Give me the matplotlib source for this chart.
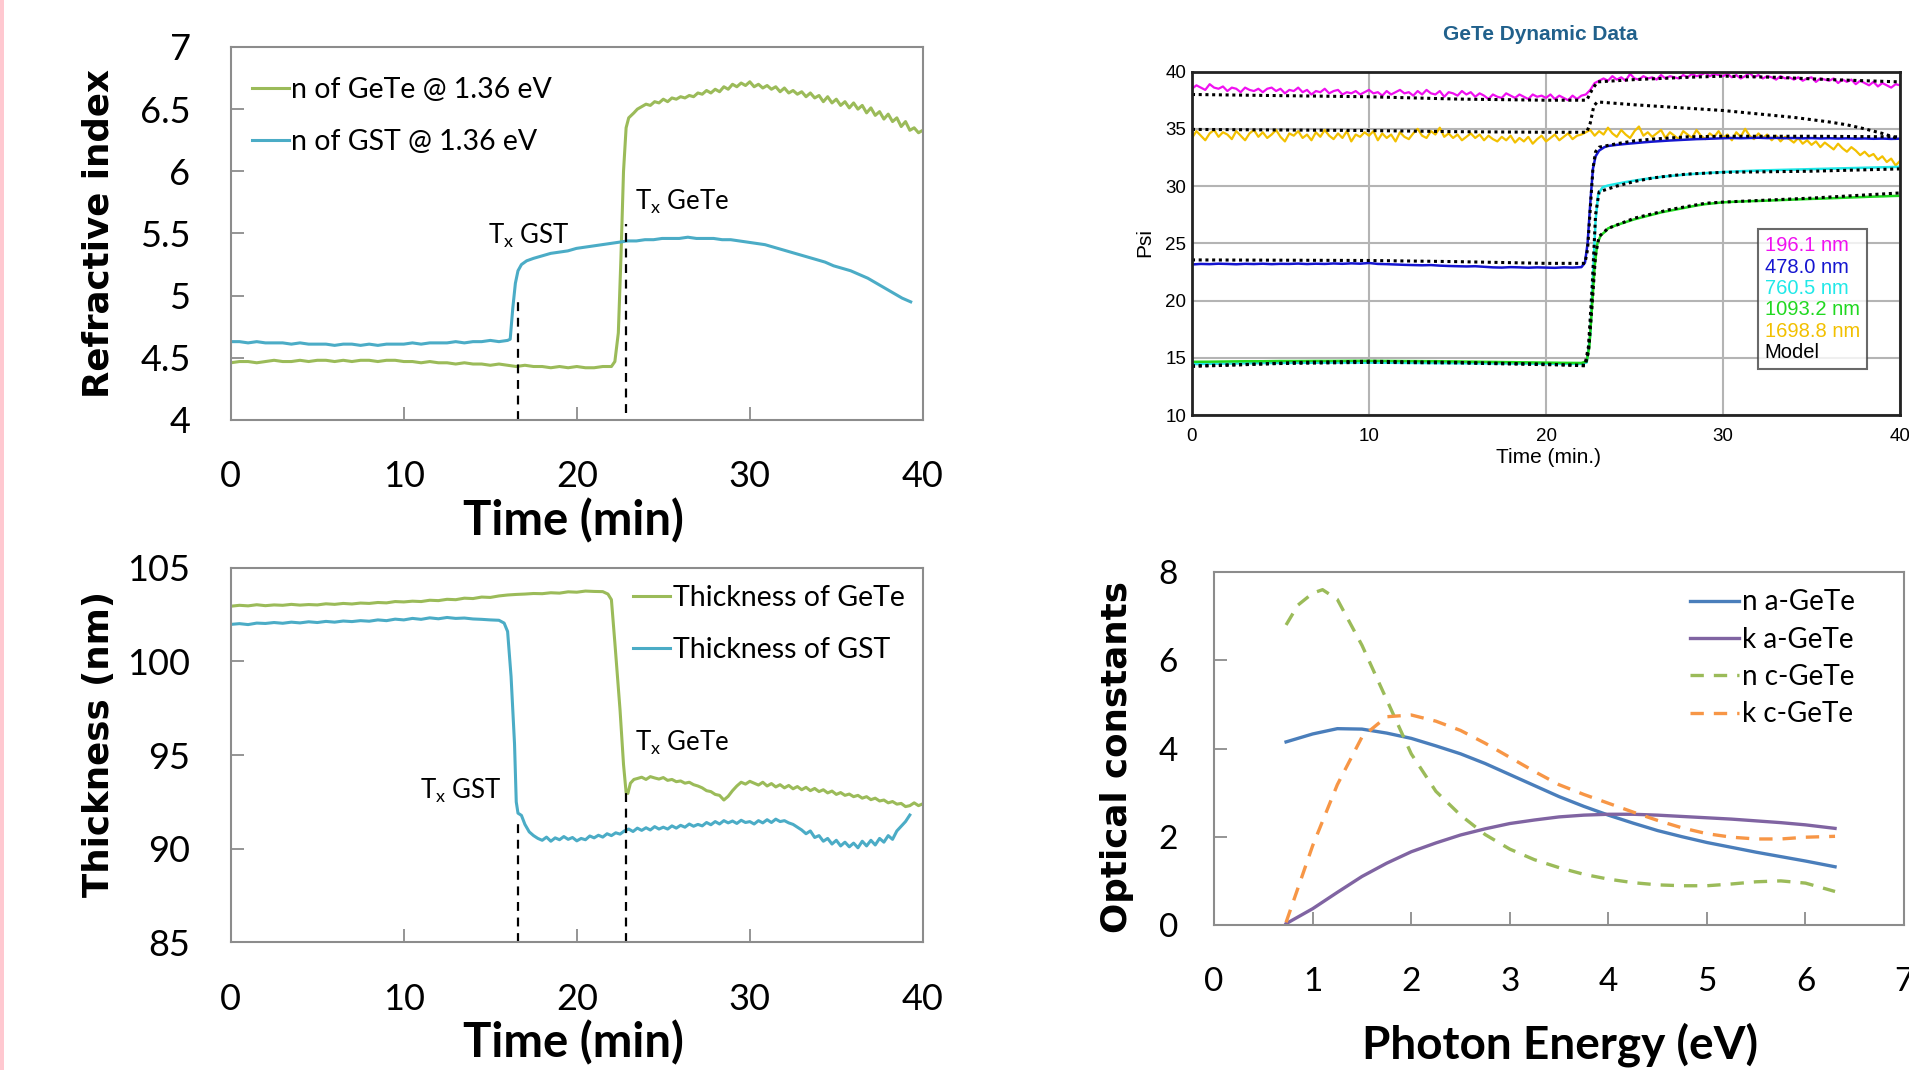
import numpy as np
import matplotlib
matplotlib.use("Agg")
import matplotlib.pyplot as plt
from matplotlib.lines import Line2D
from matplotlib.patches import Rectangle
from matplotlib.ticker import FuncFormatter

plt.rcParams['font.family'] = ['Lato', 'DejaVu Sans']
plt.rcParams['mathtext.fontset'] = 'custom'
plt.rcParams['mathtext.rm'] = 'Lato'

# ---------------------------------------------------------------- data
time_ticks = [0, 10, 20, 30, 40]

# refractive index at 1.36 eV
ri_ticks = [4, 4.5, 5, 5.5, 6, 6.5, 7]
n_gete_pre = [4.46, 4.47, 4.47, 4.46, 4.47, 4.48, 4.47, 4.47, 4.48, 4.47, 4.48, 4.48,
              4.47, 4.48, 4.47, 4.48, 4.48, 4.47, 4.48, 4.48, 4.47, 4.47, 4.46, 4.47,
              4.46, 4.46, 4.45, 4.46, 4.45, 4.45, 4.44, 4.45, 4.44, 4.43, 4.44, 4.43,
              4.43, 4.42, 4.43, 4.42, 4.43, 4.42, 4.42, 4.43, 4.43]          # 0 .. 22 min
n_gete_jump_t = [22.2, 22.4, 22.55, 22.7, 22.85, 23.0, 23.3]
n_gete_jump = [4.47, 4.70, 5.30, 6.00, 6.35, 6.43, 6.47]
n_gete_post = [6.50, 6.52, 6.54, 6.53, 6.56, 6.55, 6.58, 6.56, 6.59, 6.58, 6.60, 6.59, 6.61, 6.60, 6.63,
               6.62, 6.65, 6.63, 6.66, 6.64, 6.68, 6.66, 6.70, 6.68, 6.71, 6.69, 6.72,
               6.68, 6.70, 6.67, 6.69, 6.66, 6.68, 6.64, 6.67, 6.63, 6.65, 6.62, 6.64,
               6.60, 6.63, 6.59, 6.61, 6.56, 6.60, 6.55, 6.58, 6.53, 6.56, 6.51, 6.55,
               6.50, 6.53, 6.47, 6.51, 6.45, 6.48, 6.42, 6.46, 6.40, 6.43, 6.36, 6.40,
               6.33, 6.35, 6.31, 6.33]                                           # 23.5 .. 40 min

n_gst_pre = [4.63, 4.63, 4.62, 4.63, 4.62, 4.62, 4.62, 4.61, 4.62, 4.61, 4.61, 4.61,
             4.60, 4.61, 4.61, 4.60, 4.61, 4.60, 4.61, 4.61, 4.61, 4.62, 4.61, 4.62,
             4.62, 4.62, 4.63, 4.62, 4.63, 4.63, 4.64, 4.63, 4.64]              # 0 .. 16 min
n_gst_jump_t = [16.15, 16.3, 16.45, 16.6, 16.8, 17.1]
n_gst_jump = [4.65, 4.90, 5.10, 5.20, 5.25, 5.28]
n_gst_post = [5.30, 5.32, 5.34, 5.35, 5.36, 5.38, 5.39, 5.40, 5.41, 5.42, 5.43, 5.44,
              5.44, 5.45, 5.45, 5.46, 5.46, 5.46, 5.47, 5.46, 5.46, 5.46, 5.45, 5.45,
              5.44, 5.43, 5.42, 5.41, 5.39, 5.37, 5.35, 5.33, 5.31, 5.29, 5.27, 5.24,
              5.22, 5.20, 5.17, 5.14, 5.10, 5.06, 5.02, 4.98, 4.95]             # 17.5 .. 39.3 min

# crystallisation times and marker-line tops
tx_times = [16.6, 22.85]
tx_ri_bottom = [4.0, 4.06]
tx_ri_top = [4.95, 5.58]
tx_th_top = [91.4, 93.0]

# film thickness
th_ticks = [85, 90, 95, 100, 105]
th_gete_pre = [102.95, 103.00, 102.97, 103.03, 102.98, 103.02, 103.00, 103.05, 103.01, 103.04,
               103.02, 103.08, 103.05, 103.10, 103.07, 103.12, 103.10, 103.15, 103.13, 103.20,
               103.18, 103.22, 103.20, 103.27, 103.25, 103.32, 103.30, 103.38, 103.36, 103.44,
               103.42, 103.50, 103.55, 103.58, 103.60, 103.63, 103.62, 103.67, 103.65, 103.72,
               103.70, 103.76, 103.74, 103.73]                                   # 0 .. 21.5 min
th_gete_jump_t = [21.8, 22.0, 22.2, 22.5, 22.7, 22.85, 22.95, 23.1, 23.3]
th_gete_jump = [103.6, 103.3, 101.0, 97.4, 94.5, 93.0, 92.95, 93.5, 93.7]
th_gete_post = [93.75, 93.82, 93.70, 93.85, 93.78, 93.72, 93.80, 93.65, 93.70, 93.58, 93.62, 93.50, 93.55, 93.42, 93.35,
                93.25, 93.10, 93.05, 92.90, 92.85, 92.60, 92.80, 93.10, 93.35, 93.55, 93.45, 93.60,
                93.50, 93.40, 93.55, 93.35, 93.48, 93.30, 93.42, 93.25, 93.38, 93.20, 93.32, 93.15,
                93.28, 93.10, 93.22, 93.05, 93.15, 92.98, 93.08, 92.90, 93.00, 92.85, 92.92, 92.78,
                92.85, 92.70, 92.78, 92.62, 92.70, 92.55, 92.60, 92.45, 92.52, 92.38, 92.42, 92.25,
                92.30, 92.45, 92.30, 92.40]                                      # 23.5 .. 40 min

th_gst_pre = [101.98, 102.02, 101.97, 102.05, 102.03, 102.08, 102.04, 102.10, 102.06, 102.12,
              102.08, 102.14, 102.10, 102.16, 102.13, 102.18, 102.15, 102.22, 102.18, 102.26,
              102.22, 102.30, 102.25, 102.33, 102.28, 102.35, 102.30, 102.32, 102.27, 102.25,
              102.22, 102.20]                                                    # 0 .. 15.5 min
th_gst_jump_t = [15.8, 16.0, 16.2, 16.4, 16.5, 16.6, 16.8, 17.0, 17.25]
th_gst_jump = [102.05, 101.6, 99.2, 95.6, 92.5, 91.9, 91.78, 91.3, 90.9]
th_gst_post = [90.70, 90.55,
               90.45, 90.62, 90.40, 90.58, 90.48, 90.65, 90.50, 90.60,
               90.42, 90.55, 90.48, 90.68, 90.58, 90.72, 90.62, 90.80,
               90.70, 90.85, 90.78, 90.95, 91.05, 90.92, 91.10, 90.98,
               91.12, 91.00, 91.18, 91.05, 91.15, 91.05, 91.22, 91.10,
               91.25, 91.15, 91.32, 91.20, 91.30, 91.22, 91.40, 91.28,
               91.45, 91.32, 91.50, 91.38, 91.48, 91.35, 91.52, 91.40,
               91.45, 91.32, 91.50, 91.38, 91.55, 91.40, 91.58, 91.45,
               91.50, 91.38, 91.30, 91.15, 91.00, 90.80, 90.95, 90.60,
               90.70, 90.40, 90.55, 90.25, 90.45, 90.15, 90.35, 90.10,
               90.30, 90.05, 90.40, 90.15, 90.45, 90.20, 90.55, 90.35,
               90.70, 90.50, 90.95, 91.20, 91.45, 91.80]                         # 17.5 .. 39.25 min

# ellipsometric Psi (deg) at five wavelengths, measured and model
psi_ticks = [10, 15, 20, 25, 30, 35, 40]
psi_labels = ['196.1 nm', '478.0 nm', '760.5 nm', '1093.2 nm', '1698.8 nm', 'Model']

psi_196_pre = [38.5, 38.8, 38.6, 38.4, 38.9, 38.6, 38.5, 38.7, 38.3, 38.6, 38.5, 38.2,
               38.6, 38.4, 38.3, 38.5, 38.2, 38.5, 38.6, 38.3, 38.5, 38.1, 38.4, 38.3,
               38.6, 38.2, 38.4, 38.0, 38.3, 38.2, 38.5, 38.1, 38.3, 38.4, 38.0, 38.2,
               38.1, 38.3, 38.0, 38.2, 38.4, 38.1, 38.2, 37.9, 38.3, 38.0, 38.2, 38.4,
               38.1, 38.2, 37.9, 38.3, 38.0, 38.4, 38.1, 38.0, 38.3, 37.8, 38.2, 38.1,
               37.9, 38.3, 38.0, 38.2, 37.8, 38.1, 37.9, 37.6, 38.0, 37.8, 37.7, 38.1,
               37.9, 37.7, 38.0, 37.8, 37.6, 38.0, 37.8, 37.9, 37.7, 38.0, 37.6, 37.9,
               37.7, 37.5, 37.9, 37.6, 37.9]                                     # 0 .. 22 min
psi_196_jump_t = [22.25, 22.5, 22.75, 23.0]
psi_196_jump = [38.0, 38.4, 39.0, 39.2]
psi_196_post = [39.4, 39.2, 39.6,
                39.3, 39.5, 39.2, 39.8, 39.4, 39.3, 39.6, 39.4, 39.5, 39.3, 39.7, 39.4,
                39.6, 39.5, 39.4, 39.7, 39.5, 39.8, 39.6, 39.7, 39.9, 39.6, 39.8, 39.7,
                39.6, 39.8, 39.5, 39.7, 39.4, 39.6, 39.9, 39.5, 39.7, 39.4, 39.6, 39.5,
                39.3, 39.6, 39.4, 39.5, 39.3, 39.5, 39.2, 39.4, 39.5, 39.1, 39.4, 39.3,
                39.2, 39.4, 39.0, 39.3, 39.1, 39.3, 38.9, 39.2, 39.0, 38.8, 39.1, 38.7,
                39.0, 38.8, 38.6, 38.9, 38.8]                                    # 23.25 .. 40 min

psi_1698_pre = [34.2, 34.8, 34.4, 34.0, 34.6, 34.9, 34.3, 34.7, 34.5, 34.1, 34.8, 34.4,
                34.0, 34.6, 34.9, 34.3, 34.7, 34.2, 34.5, 34.9, 34.3, 33.9, 34.6, 34.4,
                34.8, 34.2, 34.5, 34.0, 34.7, 34.3, 34.9, 34.4, 34.1, 34.6, 34.2, 34.8,
                33.9, 34.5, 34.3, 34.7, 34.4, 34.8, 34.0, 34.6, 34.2, 34.5, 33.9, 34.7,
                34.3, 34.1, 34.6, 35.0, 34.4, 34.2, 34.8, 34.5, 35.1, 34.3, 34.6, 34.2,
                34.5, 34.0, 34.3, 34.6, 34.2, 34.5, 34.0, 34.4, 34.1, 33.9, 34.3, 34.0,
                34.4, 33.8, 34.2, 33.9, 34.3, 33.7, 34.1, 34.4, 33.9, 34.2, 34.5, 34.0,
                34.3, 34.6, 34.1, 34.4, 34.5]                                    # 0 .. 22 min
psi_1698_post = [34.7, 34.9, 34.4,
                 34.8, 34.5, 35.1, 34.6, 34.3, 34.9, 34.5, 34.2, 34.8, 35.2, 34.4, 34.7,
                 34.3, 34.6, 34.9, 34.2, 34.7, 34.4, 34.1, 34.8, 34.5, 34.2, 34.9, 34.4,
                 34.1, 34.6, 34.3, 34.8, 34.2, 34.5, 34.0, 34.7, 34.3, 35.0, 34.4, 34.1,
                 34.6, 34.2, 34.5, 34.0, 34.4, 33.9, 34.3, 34.1, 33.8, 34.2, 33.7, 34.0,
                 33.6, 33.9, 33.4, 33.8, 33.5, 33.2, 33.7, 33.3, 33.0, 33.4, 33.1, 32.7,
                 33.0, 32.6, 32.8, 32.3, 32.6, 32.1, 32.4, 31.8, 32.2]             # 22.25 .. 40 min

psi_478_pre = [23.15, 23.20, 23.18, 23.22, 23.20, 23.17, 23.21, 23.19, 23.22, 23.18, 23.21, 23.20,
               23.23, 23.19, 23.22, 23.20, 23.24, 23.21, 23.25, 23.22, 23.28, 23.20, 23.18, 23.15,
               23.12, 23.10, 23.08, 23.10, 23.05, 23.02, 23.00, 22.98, 23.00, 22.95, 22.90, 22.88,
               22.92, 22.90, 22.87, 22.90, 22.88, 22.86, 22.90, 22.88, 22.92]   # 0 .. 22 min
psi_478_jump_t = [22.2, 22.35, 22.5, 22.65, 22.8, 23.0, 23.3]
psi_478_jump = [23.3, 25.0, 28.5, 31.5, 32.6, 33.1, 33.4]
psi_478_post = [33.50, 33.60, 33.68, 33.75, 33.82, 33.88, 33.93, 33.98, 34.02, 34.06, 34.10, 34.12,
                34.15, 34.18, 34.20, 34.18, 34.20, 34.22, 34.19, 34.21, 34.18, 34.20, 34.17, 34.19,
                34.16, 34.18, 34.15, 34.17, 34.14, 34.16, 34.13, 34.15, 34.12, 34.14]  # 23.5 .. 40 min

psi_760_pre = [14.45, 14.48, 14.50, 14.52, 14.54, 14.55, 14.56, 14.57, 14.58, 14.58, 14.58, 14.57,
               14.56, 14.55, 14.54, 14.53, 14.52, 14.51, 14.50, 14.49, 14.48, 14.47, 14.47]  # 0 .. 22 min
psi_760_jump_t = [22.3, 22.5, 22.65, 22.8, 22.95, 23.2]
psi_760_jump = [14.6, 17.0, 22.0, 27.0, 29.3, 29.9]
psi_760_post = [30.05, 30.20, 30.35, 30.48, 30.60, 30.70, 30.80, 30.88, 30.95, 31.02, 31.08, 31.13,
                31.18, 31.22, 31.26, 31.30, 31.33, 31.36, 31.38, 31.40, 31.42, 31.44, 31.46, 31.48,
                31.50, 31.52, 31.54, 31.56, 31.58, 31.60, 31.62, 31.64, 31.66, 31.68]  # 23.5 .. 40 min

psi_1093_pre = [14.65, 14.66, 14.68, 14.70, 14.70, 14.72, 14.72, 14.73, 14.73, 14.74, 14.74, 14.73,
                14.72, 14.71, 14.70, 14.68, 14.66, 14.64, 14.62, 14.60, 14.58, 14.56, 14.55]  # 0 .. 22 min
psi_1093_jump_t = [22.3, 22.45, 22.6, 22.75, 22.9, 23.1, 23.4]
psi_1093_jump = [14.7, 16.0, 19.5, 23.0, 25.0, 25.7, 26.1]
psi_1093_post = [26.30, 26.60, 26.85, 27.10, 27.30, 27.50, 27.70, 27.85, 28.00, 28.15, 28.30, 28.42,
                 28.50, 28.58, 28.62, 28.65, 28.68, 28.70, 28.73, 28.76, 28.79, 28.82, 28.85, 28.88,
                 28.90, 28.93, 28.96, 28.99, 29.02, 29.05, 29.08, 29.10, 29.13, 29.15]  # 23.5 .. 40 min

model_196_t = [0, 5, 10, 15, 20, 22.3, 22.6, 22.9, 25, 28, 30, 33, 36, 40]
model_196 = [38.0, 37.9, 37.8, 37.6, 37.5, 37.5, 38.4, 39.1, 39.3, 39.5, 39.6, 39.5, 39.3, 39.1]
model_1698_t = [0, 5, 10, 15, 20, 22.3, 22.5, 22.7, 22.9, 25, 28, 30, 32, 34, 35, 36, 37, 38, 39, 40]
model_1698 = [34.95, 34.9, 34.85, 34.75, 34.7, 34.7, 35.5, 37.0, 37.35, 37.1, 36.8, 36.6, 36.3, 36.0,
              35.8, 35.6, 35.35, 35.0, 34.6, 34.1]
model_478_t = [0, 10, 15, 20, 22.2, 22.35, 22.5, 22.65, 22.8, 23.0, 24, 25, 26, 27, 28, 30, 35, 40]
model_478 = [23.55, 23.5, 23.4, 23.25, 23.25, 24.5, 28.0, 31.5, 33.0, 33.4, 33.7, 33.95, 34.1, 34.2,
             34.3, 34.35, 34.35, 34.3]
model_760_t = [0, 5, 10, 15, 20, 22.2, 22.4, 22.6, 22.8, 23.0, 24, 25, 26, 27, 28, 30, 35, 40]
model_760 = [14.3, 14.5, 14.6, 14.55, 14.4, 14.35, 16.0, 21.0, 27.5, 29.5, 30.0, 30.4, 30.7, 30.9,
             31.05, 31.2, 31.3, 31.5]
model_1093_t = [0, 3, 6, 10, 15, 20, 22.2, 22.4, 22.6, 22.8, 23.0, 23.5, 25, 27, 29, 30, 35, 40]
model_1093 = [14.25, 14.4, 14.6, 14.7, 14.6, 14.45, 14.3, 15.5, 19.5, 24.0, 25.6, 26.3, 27.2, 27.95,
              28.5, 28.6, 28.95, 29.4]

# optical constants of amorphous and crystalline GeTe
energy_ticks = [0, 1, 2, 3, 4, 5, 6, 7]
oc_ticks = [0, 2, 4, 6, 8]
energy = [0.73, 1.0, 1.25, 1.5, 1.75, 2.0, 2.25, 2.5, 2.75, 3.0, 3.25, 3.5, 3.75, 4.0,
          4.25, 4.5, 4.75, 5.0, 5.25, 5.5, 5.75, 6.0, 6.3]
n_a_gete = [4.15, 4.33, 4.45, 4.44, 4.35, 4.23, 4.06, 3.88, 3.66, 3.41, 3.16, 2.91, 2.69, 2.49,
            2.31, 2.14, 2.00, 1.87, 1.76, 1.65, 1.55, 1.45, 1.32]
k_a_gete = [0.03, 0.37, 0.74, 1.10, 1.40, 1.66, 1.86, 2.04, 2.18, 2.30, 2.38, 2.45, 2.49, 2.51,
            2.51, 2.49, 2.46, 2.43, 2.40, 2.36, 2.32, 2.27, 2.19]
energy_nc = [0.73, 0.85, 1.0, 1.1, 1.25, 1.5, 1.75, 2.0, 2.25, 2.5, 2.75, 3.0, 3.25, 3.5, 3.75,
             4.0, 4.25, 4.5, 4.75, 5.0, 5.25, 5.5, 5.75, 6.0, 6.3]
n_c_gete = [6.80, 7.25, 7.52, 7.60, 7.38, 6.34, 5.11, 3.88, 3.03, 2.49, 2.05, 1.72, 1.48, 1.30, 1.15,
            1.04, 0.96, 0.91, 0.89, 0.89, 0.93, 0.98, 1.00, 0.95, 0.76]
k_c_gete = [0.06, 1.80, 3.18, 4.26, 4.72, 4.76, 4.62, 4.41, 4.12, 3.80, 3.48, 3.18, 2.96, 2.76,
            2.56, 2.37, 2.20, 2.07, 1.99, 1.95, 1.95, 1.99, 2.01]


def stitch(pre, pre_span, jump_t, jump_v, post, post_span):
    """Join a steady segment, the transition samples and the following segment."""
    t = np.concatenate([np.linspace(pre_span[0], pre_span[1], len(pre)), jump_t,
                        np.linspace(post_span[0], post_span[1], len(post))])
    return t, np.concatenate([pre, jump_v, post])


# ---------------------------------------------------------------- styling
GREEN = '#9bbb59'
CYAN = '#4bacc6'
GREY = '#8c8c8c'
fmt_g = FuncFormatter(lambda v, p: f'{v:g}')


def office_axes(ax, size, xpad, ypad):
    for s in ax.spines.values():
        s.set_color(GREY)
        s.set_linewidth(1.5)
    ax.tick_params(direction='in', length=9.5, width=1.3, color=GREY, labelsize=size)
    ax.tick_params(axis='x', pad=xpad)
    ax.tick_params(axis='y', pad=ypad)
    ax.xaxis.set_major_formatter(fmt_g)
    ax.yaxis.set_major_formatter(fmt_g)


fig = plt.figure(figsize=(19.09, 10.70), dpi=100)
fig.patch.set_facecolor('white')
fig.add_artist(Rectangle((0, 0), 4 / 1909, 1, transform=fig.transFigure,
                         facecolor='#ffc8d0', edgecolor='none'))

tx_label = r'T$_{\mathregular{x}}$ '

# ---- refractive index
ax1 = fig.add_axes([0.1209, 0.6075, 0.3625, 0.3486])
t, v = stitch(n_gete_pre, (0, 22), n_gete_jump_t, n_gete_jump, n_gete_post, (23.5, 40))
ax1.plot(t, v, color=GREEN, lw=2.2, label='n of GeTe @ 1.36 eV')
t, v = stitch(n_gst_pre, (0, 16), n_gst_jump_t, n_gst_jump, n_gst_post, (17.5, 39.3))
ax1.plot(t, v, color=CYAN, lw=2.2, label='n of GST @ 1.36 eV')
for x, y0, y1 in zip(tx_times, tx_ri_bottom, tx_ri_top):
    ax1.plot([x, x], [y0, y1], color='black', lw=1.6, ls=(0, (4, 3)))
ax1.text(14.86, 5.42, tx_label + 'GST', fontsize=18.5, va='baseline')
ax1.text(23.35, 5.69, tx_label + 'GeTe', fontsize=18.5, va='baseline')
ax1.set_xlim(0, 40)
ax1.set_ylim(4, 7)
ax1.set_xticks(time_ticks)
ax1.set_yticks(ri_ticks)
office_axes(ax1, 26, 29, 29)
ax1.legend(loc='upper left', bbox_to_anchor=(0.03, 0.92), frameon=False, fontsize=20.5,
           handlelength=1.3, handletextpad=0.1, labelspacing=0.92, borderpad=0, borderaxespad=0)

# ---- thickness
ax2 = fig.add_axes([0.1209, 0.1193, 0.3625, 0.3500])
t, v = stitch(th_gete_pre, (0, 21.5), th_gete_jump_t, th_gete_jump, th_gete_post, (23.5, 40))
ax2.plot(t, v, color=GREEN, lw=2.2, label='Thickness of GeTe')
t, v = stitch(th_gst_pre, (0, 15.5), th_gst_jump_t, th_gst_jump, th_gst_post, (17.5, 39.25))
ax2.plot(t, v, color=CYAN, lw=2.2, label='Thickness of GST')
for x, y1 in zip(tx_times, tx_th_top):
    ax2.plot([x, x], [85, y1], color='black', lw=1.6, ls=(0, (4, 3)))
ax2.text(10.93, 92.69, tx_label + 'GST', fontsize=18.5, va='baseline')
ax2.text(23.35, 95.23, tx_label + 'GeTe', fontsize=18.5, va='baseline')
ax2.set_xlim(0, 40)
ax2.set_ylim(85, 105)
ax2.set_xticks(time_ticks)
ax2.set_yticks(th_ticks)
office_axes(ax2, 26, 29, 29)
ax2.legend(loc='upper left', bbox_to_anchor=(0.581, 0.955), frameon=False, fontsize=20.5,
           handlelength=1.3, handletextpad=0.1, labelspacing=0.92, borderpad=0, borderaxespad=0)

# ---- dynamic Psi data
ax3 = fig.add_axes([0.6244, 0.6121, 0.3709, 0.3210])
arial = ['Liberation Sans', 'DejaVu Sans']
psi_colors = ['#f010f0', '#1515d0', '#20e8e8', '#20d820', '#f2c000', 'black']
ax3.grid(True, color='#b4b4b4', lw=1.5)
ax3.set_axisbelow(True)
t, v = stitch(psi_196_pre, (0, 22), psi_196_jump_t, psi_196_jump, psi_196_post, (23.25, 40))
ax3.plot(t, v, color=psi_colors[0], lw=1.6)
ax3.plot(np.concatenate([np.linspace(0, 22, len(psi_1698_pre)),
                         np.linspace(22.25, 40, len(psi_1698_post))]),
         psi_1698_pre + psi_1698_post, color=psi_colors[4], lw=1.6)
t, v = stitch(psi_478_pre, (0, 22), psi_478_jump_t, psi_478_jump, psi_478_post, (23.5, 40))
ax3.plot(t, v, color=psi_colors[1], lw=1.8)
t, v = stitch(psi_760_pre, (0, 22), psi_760_jump_t, psi_760_jump, psi_760_post, (23.5, 40))
ax3.plot(t, v, color=psi_colors[2], lw=1.8)
t, v = stitch(psi_1093_pre, (0, 22), psi_1093_jump_t, psi_1093_jump, psi_1093_post, (23.5, 40))
ax3.plot(t, v, color=psi_colors[3], lw=1.8)
for mt, mv in [(model_196_t, model_196), (model_1698_t, model_1698), (model_478_t, model_478),
               (model_760_t, model_760), (model_1093_t, model_1093)]:
    ax3.plot(mt, mv, color='black', lw=2.2, ls=(0, (1, 1.2)))
ax3.set_xlim(0, 40)
ax3.set_ylim(10, 40)
ax3.set_xticks(time_ticks)
ax3.set_yticks(psi_ticks)
for s in ax3.spines.values():
    s.set_color('#222222')
    s.set_linewidth(2)
ax3.tick_params(length=0, labelsize=13.5)
ax3.tick_params(axis='x', pad=9)
ax3.tick_params(axis='y', pad=4)
for lab in ax3.get_xticklabels() + ax3.get_yticklabels():
    lab.set_family(arial)
handles = [Line2D([], [], ls='none') for _ in psi_labels]
leg = ax3.legend(handles, psi_labels, loc='upper left', bbox_to_anchor=(0.799, 0.5415),
                 borderaxespad=0, handlelength=0, handletextpad=0, labelspacing=0.12,
                 borderpad=0.35, fancybox=False, prop={'family': arial, 'size': 14.5})
leg.get_frame().set_edgecolor('#444444')
leg.get_frame().set_linewidth(1.5)
for txt, c in zip(leg.get_texts(), psi_colors):
    txt.set_color(c)

# ---- optical constants
ax4 = fig.add_axes([0.6360, 0.1355, 0.3614, 0.3299])
ax4.plot(energy, n_a_gete, color='#4a7ebb', lw=2.4, label='n a-GeTe')
ax4.plot(energy, k_a_gete, color='#8064a2', lw=2.4, label='k a-GeTe')
ax4.plot(energy_nc, n_c_gete, color=GREEN, lw=2.4, ls=(0, (4, 3)), label='n c-GeTe')
ax4.plot(energy, k_c_gete, color='#f79646', lw=2.4, ls=(0, (4, 3)), label='k c-GeTe')
ax4.set_xlim(0, 7)
ax4.set_ylim(0, 8)
ax4.set_xticks(energy_ticks)
ax4.set_yticks(oc_ticks)
office_axes(ax4, 24, 30, 26)
ax4.legend(loc='upper left', bbox_to_anchor=(0.690, 0.951), frameon=False, fontsize=20,
           handlelength=1.76, handletextpad=0.1, labelspacing=0.41, borderpad=0, borderaxespad=0)

# ---- axis titles
bold_heavy = dict(family=['DejaVu Sans'], fontweight='bold', fontsize=25.7,
                  rotation=90, ha='center', va='center')
bold_narrow = dict(fontweight='bold', fontsize=34, ha='center', va='center')
fig.text(0.0516, 0.7822, 'Refractive index', **bold_heavy)
fig.text(0.0519, 0.3047, 'Thickness (nm)', **bold_heavy)
fig.text(0.5851, 0.2925, 'Optical constants', **bold_heavy)
fig.text(0.3004, 0.5130, 'Time (min)', **bold_narrow)
fig.text(0.3004, 0.0252, 'Time (min)', **bold_narrow)
fig.text(0.8172, 0.0234, 'Photon Energy (eV)', fontweight='bold', fontsize=33,
         ha='center', va='center')
fig.text(0.8067, 0.9673, 'GeTe Dynamic Data', family=arial, fontweight='bold', fontsize=15,
         color='#21618c', ha='center', va='center')
fig.text(0.5998, 0.7729, 'Psi', family=arial, fontsize=15, rotation=90, ha='center', va='center')
fig.text(0.8114, 0.5720, 'Time (min.)', family=arial, fontsize=15, ha='center', va='center')

fig.savefig('out.png', dpi=100, facecolor='white')
